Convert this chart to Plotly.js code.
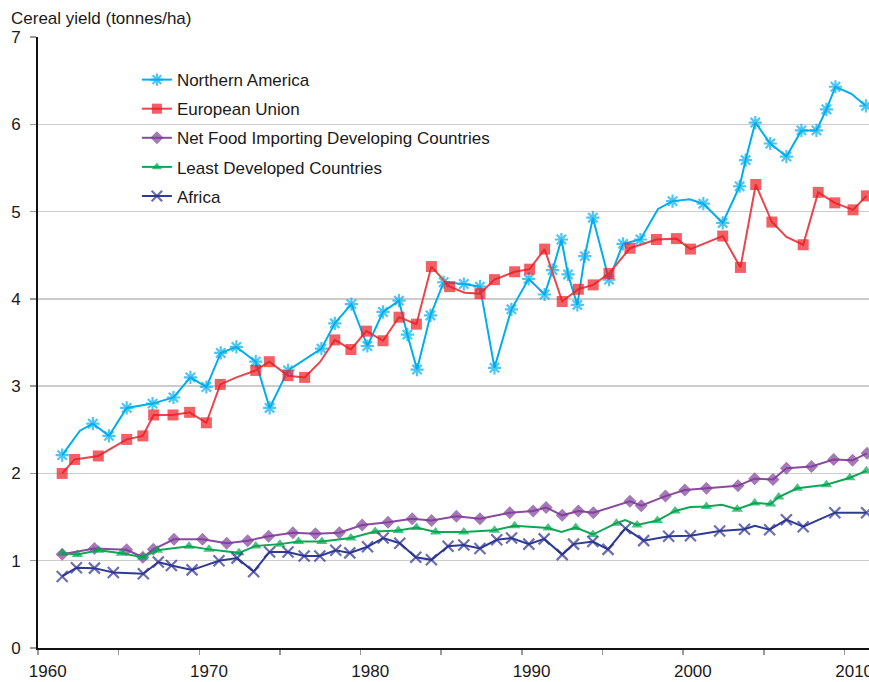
<!DOCTYPE html>
<html>
<head>
<meta charset="utf-8">
<script src="https://cdn.plot.ly/plotly-3.0.1.min.js"></script>
<style>html,body{margin:0;padding:0;background:#fff;}#chart{width:869px;height:682px;}</style>
</head>
<body>
<div id="chart"></div>
<script>
// ---- Data (x = position along the year axis) ----
const seriesNames = ["Northern America", "European Union", "Net Food Importing Developing Countries", "Least Developed Countries", "Africa"];

const naYears = [1961.5,1962.6,1963.4,1964.4,1965.5,1967.1,1968.4,1969.45,1970.44,1971.33,1972.3,1973.5,1974.36,1975.5,1977.57,1978.4,1979.43,1980.42,1981.39,1982.38,1982.9,1983.5,1984.33,1985.15,1986.4,1987.4,1988.3,1989.35,1990.42,1991.41,1991.9,1992.45,1992.86,1993.44,1993.9,1994.4,1995.4,1996.27,1997.35,1998.44,1999.34,2000.4,2001.25,2002.45,2003.5,2003.87,2004.47,2005.4,2006.4,2007.33,2008.26,2008.88,2009.44,2010.43,2011.33];
const naYield = [2.21,2.49,2.57,2.43,2.75,2.80,2.87,3.10,2.99,3.38,3.45,3.28,2.75,3.18,3.43,3.72,3.94,3.46,3.85,3.98,3.59,3.19,3.81,4.19,4.17,4.14,3.21,3.88,4.23,4.05,4.33,4.68,4.28,3.93,4.49,4.93,4.22,4.63,4.68,5.03,5.12,5.14,5.09,4.87,5.29,5.59,6.02,5.78,5.63,5.93,5.93,6.17,6.43,6.35,6.21];
const naUnmarked = [1962.6,1998.44,2000.4,2010.43];

const euYears = [1961.5,1962.27,1963.74,1965.5,1966.5,1967.17,1968.37,1969.4,1970.44,1971.3,1972.3,1973.5,1974.34,1975.5,1976.53,1977.5,1978.4,1979.4,1980.36,1981.39,1982.38,1983.46,1984.39,1985.52,1986.45,1987.4,1988.3,1989.55,1990.48,1991.41,1992.5,1993.5,1994.42,1995.4,1996.7,1998.34,1999.58,2000.45,2002.45,2003.55,2004.5,2005.5,2006.4,2007.44,2008.37,2009.4,2010.53,2011.36];
const euYield = [2.00,2.16,2.20,2.39,2.43,2.67,2.67,2.70,2.58,3.02,3.10,3.18,3.28,3.12,3.10,3.28,3.53,3.42,3.63,3.52,3.79,3.71,4.37,4.14,4.07,4.06,4.22,4.31,4.34,4.57,3.97,4.11,4.16,4.29,4.58,4.68,4.69,4.57,4.72,4.36,5.31,4.88,4.71,4.62,5.22,5.10,5.02,5.18];
const euUnmarked = [1972.3,1977.5,1986.45,2006.4];

const nfYears = [1961.5,1963.5,1965.5,1966.5,1967.15,1968.43,1970.2,1971.7,1973.0,1974.3,1975.8,1977.2,1978.68,1980.1,1981.7,1983.2,1984.4,1985.94,1987.4,1989.25,1990.7,1991.5,1992.5,1993.5,1994.43,1996.7,1997.4,1998.9,2000.1,2001.44,2003.4,2004.43,2005.57,2006.4,2007.95,2009.33,2010.5,2011.4];
const nfYield = [1.075,1.14,1.125,1.04,1.13,1.245,1.245,1.20,1.23,1.28,1.32,1.31,1.32,1.41,1.44,1.48,1.46,1.51,1.48,1.55,1.57,1.61,1.52,1.57,1.55,1.68,1.63,1.74,1.81,1.83,1.86,1.94,1.93,2.06,2.08,2.16,2.15,2.23];
const nfUnmarked = [];

const ldYears = [1961.5,1962.44,1963.77,1965.17,1966.5,1967.4,1969.36,1970.6,1972.46,1973.5,1975.0,1976.15,1977.6,1979.4,1980.9,1982.34,1983.46,1984.65,1986.4,1988.3,1989.55,1991.63,1992.45,1993.34,1994.4,1995.86,1996.4,1997.14,1998.4,1999.5,2000.45,2001.44,2002.4,2003.35,2004.43,2005.42,2005.92,2007.08,2008.88,2010.33,2011.36];
const ldYield = [1.085,1.07,1.12,1.085,1.04,1.12,1.165,1.13,1.09,1.17,1.19,1.22,1.22,1.26,1.335,1.345,1.38,1.33,1.33,1.35,1.40,1.375,1.33,1.38,1.30,1.43,1.465,1.41,1.46,1.57,1.615,1.62,1.64,1.59,1.66,1.65,1.73,1.83,1.87,1.95,2.03];
const ldUnmarked = [1992.45,1996.4,2000.45,2002.4];

const afYears = [1961.5,1962.38,1963.5,1964.67,1966.53,1967.46,1968.27,1969.55,1970.2,1971.22,1972.34,1973.37,1974.36,1975.5,1976.5,1977.47,1978.46,1979.33,1980.43,1981.4,1982.43,1983.42,1984.39,1985.42,1986.4,1987.4,1988.44,1989.36,1990.43,1991.38,1992.5,1993.2,1994.4,1995.34,1996.42,1997.55,1999.1,2000.45,2002.26,2003.8,2004.45,2005.36,2006.4,2007.44,2009.4,2011.37];
const afYield = [0.82,0.92,0.915,0.865,0.85,0.985,0.945,0.895,0.935,1.00,1.03,0.875,1.10,1.10,1.055,1.055,1.12,1.09,1.16,1.26,1.20,1.04,1.01,1.165,1.18,1.14,1.24,1.26,1.19,1.25,1.07,1.19,1.22,1.13,1.37,1.23,1.28,1.285,1.34,1.36,1.40,1.355,1.47,1.39,1.55,1.55];
const afUnmarked = [1970.2,2004.45];

const xTickLabels = ["1960","1970","1980","1990","2000","2010"];
const xLabelYears = [1960,1970,1980,1990,2000,2010];
const yAxisTitle = "Cereal yield (tonnes/ha)";

// ---- Build traces ----
const FONT = "Liberation Sans, Arial, sans-serif";
const FS = 17;
function sizes(xs, unmarked, s) { return xs.map(x => unmarked.includes(x) ? 0 : s); }

const defs = [
  {name: seriesNames[0], x: naYears, y: naYield, un: naUnmarked, sym: "asterisk-open", size: 11, mc: "#00aeef", lc: "#00aeef", lw: 2},
  {name: seriesNames[1], x: euYears, y: euYield, un: euUnmarked, sym: "square", size: 11, mc: "#ed1c24", lc: "#e9454c", lw: 2},
  {name: seriesNames[2], x: nfYears, y: nfYield, un: nfUnmarked, sym: "diamond", size: 10, mc: "#7f3f98", lc: "#8a4b9f", lw: 2},
  {name: seriesNames[3], x: ldYears, y: ldYield, un: ldUnmarked, sym: "triangle-up", size: 10, mc: "#00a651", lc: "#11a655", lw: 2},
  {name: seriesNames[4], x: afYears, y: afYield, un: afUnmarked, sym: "x-thin-open", size: 11, mc: "#2e3192", lc: "#2e3b96", lw: 2}
];

const traces = defs.map((d, i) => ({
  type: "scatter", mode: "lines+markers", name: d.name, x: d.x, y: d.y,
  legendgroup: "g" + i,
  line: {color: d.lc, width: d.lw},
  marker: {symbol: d.sym, size: sizes(d.x, d.un, d.size), color: d.mc,
           line: {color: d.mc, width: d.sym.endsWith("open") ? 2.2 : 0}},
  hoverinfo: "x+y"
}));
// empty trace attached to the label axis so it is drawn
traces.push({type: "scatter", x: [], y: [], xaxis: "x2", yaxis: "y", showlegend: false, hoverinfo: "skip"});

const xRange = [1960, 2011.52];
const layout = {
  width: 869, height: 682,
  margin: {l: 38, r: 0, t: 37, b: 34, pad: 0},
  paper_bgcolor: "#ffffff", plot_bgcolor: "#ffffff",
  font: {family: FONT, size: FS, color: "#1a1a1a"},
  showlegend: true,
  legend: {x: 0.119, y: 0.959, xanchor: "left", yanchor: "top", bgcolor: "rgba(0,0,0,0)",
           font: {family: FONT, size: FS, color: "#1a1a1a"}, tracegroupgap: 4, traceorder: "grouped"},
  xaxis: {range: xRange, tick0: 1960, dtick: 5, ticks: "outside", ticklen: 5, tickwidth: 1.5, tickcolor: "#9a9a9a",
          showticklabels: false, showline: true, linecolor: "#111", linewidth: 2, showgrid: false, zeroline: false, fixedrange: true},
  xaxis2: {overlaying: "x", anchor: "y", side: "bottom", range: xRange, tickmode: "array",
           tickvals: xLabelYears.map(v => v + 0.6), ticktext: xTickLabels, ticks: "", showline: false, showgrid: false,
           zeroline: false, tickfont: {family: FONT, size: FS, color: "#1a1a1a"}, ticklabelstandoff: 11, ticklabeloverflow: "allow"},
  yaxis: {range: [0, 7], dtick: 1, tick0: 0, ticks: "outside", ticklen: 6, tickwidth: 1.5, tickcolor: "#9a9a9a",
          showline: true, linecolor: "#111", linewidth: 2, showgrid: true, gridcolor: "#cccccc", gridwidth: 1.5,
          zeroline: false, tickfont: {family: FONT, size: FS, color: "#1a1a1a"}, ticklabelstandoff: 6, fixedrange: true},
  annotations: [{text: yAxisTitle, xref: "paper", yref: "paper", x: -0.035, y: 1.031, xanchor: "left", yanchor: "middle",
                 showarrow: false, font: {family: FONT, size: FS, color: "#1a1a1a"}}]
};

Plotly.newPlot("chart", traces, layout, {displayModeBar: false, staticPlot: true});
</script>
</body>
</html>
